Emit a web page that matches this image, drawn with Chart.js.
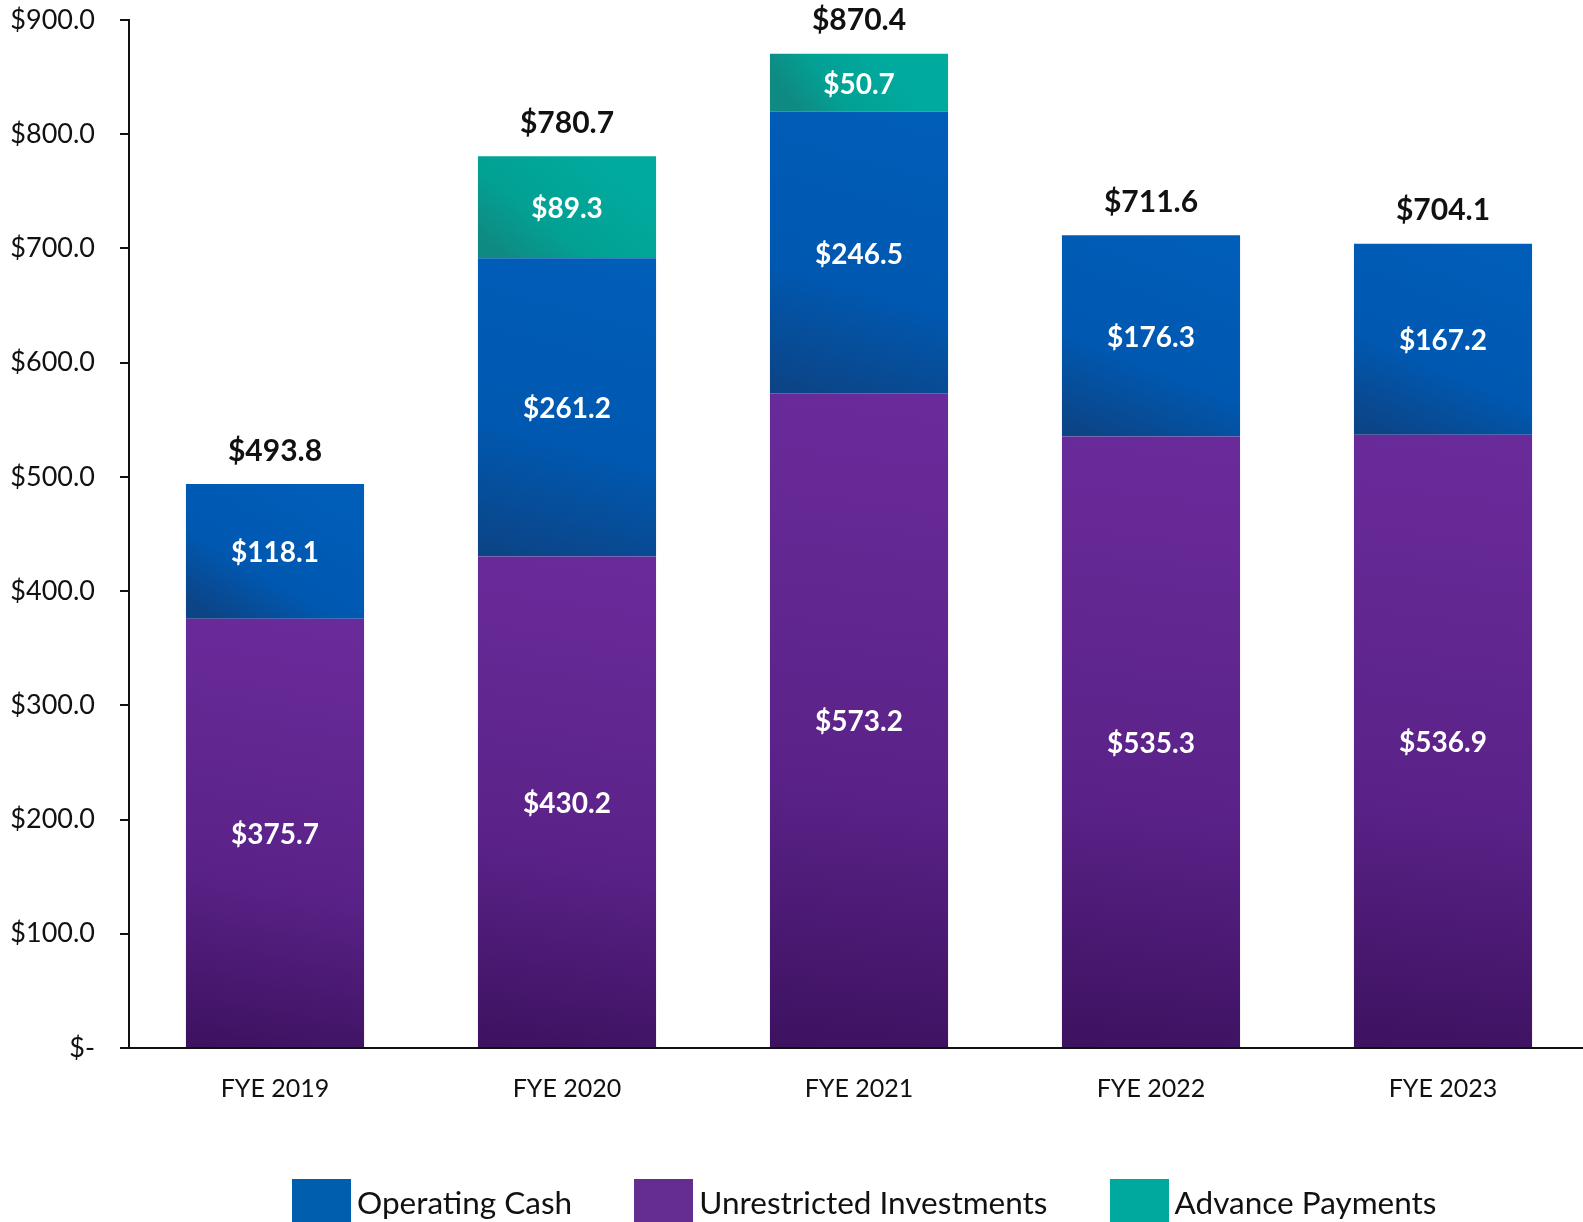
<!DOCTYPE html>
<html>
<head>
<meta charset="utf-8">
<script src="https://cdn.jsdelivr.net/npm/chart.js@4.4.1/dist/chart.umd.min.js"></script>
<style>
  html, body { margin: 0; padding: 0; background: #fff; overflow: hidden; }
  #wrap { position: relative; width: 1589px; height: 1222px; }
  #legend {
    position: absolute; top: 1179px; left: 292px;
    display: flex; gap: 62px;
    font-family: Lato, sans-serif; font-size: 31.5px; color: #111;
  }
  .item { display: flex; align-items: flex-start; }
  .swatch { width: 59px; height: 50px; margin-right: 6px; }
  .item span { line-height: 1; margin-top: 8px; }
</style>
</head>
<body>
<div id="wrap">
  <canvas id="chart" width="1589" height="1222"></canvas>
  <div id="legend"></div>
</div>
<script>
const categories = ["FYE 2019", "FYE 2020", "FYE 2021", "FYE 2022", "FYE 2023"];
const unrestrictedInvestments = [375.7, 430.2, 573.2, 535.3, 536.9];
const operatingCash = [118.1, 261.2, 246.5, 176.3, 167.2];
const advancePayments = [0, 89.3, 50.7, 0, 0];
const yTicks = [0, 100, 200, 300, 400, 500, 600, 700, 800, 900];

const series = [unrestrictedInvestments, operatingCash, advancePayments];
const totals = categories.map((c, i) => series.reduce((s, arr) => s + arr[i], 0));

// bottom, middle, top colour of each segment
const shades = [
  ["#3d1260", "#5a2288", "#6a2b9a"],
  ["#0c4486", "#0058b0", "#005db8"],
  ["#0f8a82", "#03a094", "#00aa9d"],
];
const legendColors = ["#662d91", "#005eae", "#00a99d"];

function segmentFill(c) {
  const d = c.datasetIndex;
  const { ctx, chartArea, scales } = c.chart;
  if (!chartArea || c.type !== "data") return legendColors[d];
  const i = c.dataIndex;
  let start = 0;
  for (let k = 0; k < d; k++) start += series[k][i];
  const end = start + series[d][i];
  const yBot = scales.y.getPixelForValue(start);
  const yTop = scales.y.getPixelForValue(end);
  const xc = scales.x.getPixelForValue(i);
  const g = ctx.createLinearGradient(xc - 60, yBot, xc + 20, yTop);
  g.addColorStop(0, shades[d][0]);
  g.addColorStop(0.4, shades[d][1]);
  g.addColorStop(1, shades[d][2]);
  return g;
}

const labelPlugin = {
  id: "stackLabels",
  afterDatasetsDraw(chart) {
    const { ctx, scales } = chart;
    ctx.save();
    ctx.textAlign = "center";
    ctx.textBaseline = "middle";
    ctx.font = "bold 28px Lato";
    ctx.fillStyle = "#ffffff";
    chart.data.datasets.forEach((ds, d) => {
      chart.getDatasetMeta(d).data.forEach((bar, i) => {
        const v = ds.data[i];
        if (!v) return;
        ctx.fillText("$" + v.toFixed(1), bar.x, (bar.y + bar.base) / 2 + 2);
      });
    });
    ctx.font = "bold 30px Lato";
    ctx.fillStyle = "#111111";
    const base = chart.getDatasetMeta(0).data;
    totals.forEach((t, i) => {
      ctx.fillText("$" + t.toFixed(1), base[i].x, scales.y.getPixelForValue(t) - 33);
    });
    ctx.restore();
  },
};

new Chart(document.getElementById("chart").getContext("2d"), {
  type: "bar",
  data: {
    labels: categories,
    datasets: [
      { label: "Unrestricted Investments", data: unrestrictedInvestments, backgroundColor: segmentFill },
      { label: "Operating Cash", data: operatingCash, backgroundColor: segmentFill },
      { label: "Advance Payments", data: advancePayments, backgroundColor: segmentFill },
    ],
  },
  options: {
    responsive: false,
    animation: false,
    barPercentage: 1,
    categoryPercentage: 0.61,
    layout: { padding: { top: 20, bottom: 114, left: 0, right: 0 } },
    plugins: { legend: { display: false }, tooltip: { enabled: false } },
    scales: {
      x: {
        stacked: true,
        grid: { display: false },
        border: { color: "#111", width: 2 },
        ticks: { color: "#111", font: { family: "Lato", size: 25 }, padding: 18 },
        afterFit(scale) { scale.height = 60; },
      },
      y: {
        stacked: true,
        min: 0,
        max: 900,
        afterBuildTicks(scale) { scale.ticks = yTicks.map((v) => ({ value: v })); },
        grid: { drawOnChartArea: false, drawTicks: true, tickLength: 9, color: "#111", lineWidth: 2 },
        border: { color: "#111", width: 2 },
        ticks: {
          color: "#111",
          padding: 25,
          font: { family: "Lato", size: 27 },
          callback: (v) => (v === 0 ? "$-" : "$" + v.toFixed(1)),
        },
        afterFit(scale) {
          scale.width = 129;
          scale.paddingTop = 0;
          scale.paddingBottom = 0;
        },
      },
    },
  },
  plugins: [labelPlugin],
});

const legendOrder = [1, 0, 2];
const legendEl = document.getElementById("legend");
const names = ["Unrestricted Investments", "Operating Cash", "Advance Payments"];
legendOrder.forEach((d) => {
  const item = document.createElement("div");
  item.className = "item";
  item.innerHTML = '<div class="swatch" style="background:' + legendColors[d] + '"></div><span>' + names[d] + "</span>";
  legendEl.appendChild(item);
});
</script>
</body>
</html>
